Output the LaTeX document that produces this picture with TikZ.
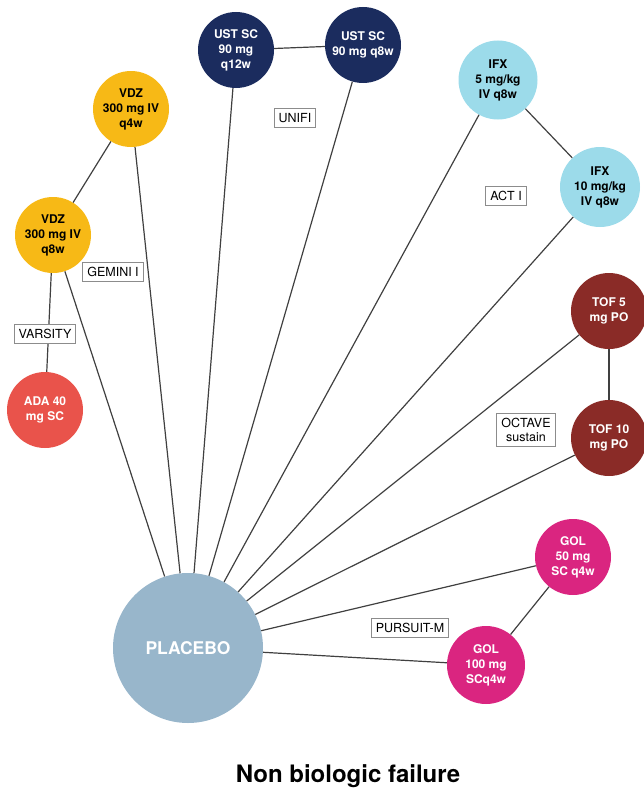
\documentclass[tikz,border=0pt]{standalone}
\usepackage{fontspec}
\setmainfont{TeX Gyre Heros}
\begin{document}
\begin{tikzpicture}[x=1pt,y=-1pt,
  drug/.style={circle,minimum size=76pt,inner sep=0pt,align=center,
    font=\bfseries\fontsize{12}{15}\selectfont},
  trial/.style={draw=black!45,line width=1pt,fill=white,inner xsep=4.5pt,inner ysep=4.5pt,
    align=center,font=\fontsize{12.5}{14}\selectfont},
  link/.style={draw=black!75,line width=1.2pt}]
\definecolor{vdzc}{HTML}{F7B916}
\definecolor{adac}{HTML}{E9534B}
\definecolor{ustc}{HTML}{1B2C5E}
\definecolor{ifxc}{HTML}{9CDBEA}
\definecolor{tofc}{HTML}{8A2B27}
\definecolor{golc}{HTML}{DA2580}
\definecolor{plac}{HTML}{98B6CB}
\useasboundingbox (0,0) rectangle (644,792);

% treatment nodes
\node[drug,fill=plac,text=white,minimum size=150pt,font=\bfseries\fontsize{17.5}{20}\selectfont] (pbo) at (188,648) {PLACEBO};
\node[drug,fill=vdzc] (vdz4) at (131,109) {VDZ\\300 mg IV\\q4w};
\node[drug,fill=vdzc] (vdz8) at (53,235) {VDZ\\300 mg IV\\q8w};
\node[drug,fill=adac,text=white] (ada) at (45,410) {ADA 40\\mg SC};
\node[drug,fill=ustc,text=white] (ust12) at (236,50) {UST SC\\90 mg\\q12w};
\node[drug,fill=ustc,text=white] (ust8) at (363,45) {UST SC\\90 mg q8w};
\node[drug,fill=ifxc,minimum size=79pt] (ifx5) at (498,80) {IFX\\5 mg/kg\\IV q8w};
\node[drug,fill=ifxc,minimum size=80pt] (ifx10) at (600,187) {IFX\\10 mg/kg\\IV q8w};
\node[drug,fill=tofc,text=white] (tof5) at (609,311) {TOF 5\\mg PO};
\node[drug,fill=tofc,text=white] (tof10) at (609,438) {TOF 10\\mg PO};
\node[drug,fill=golc,text=white] (gol50) at (573,557) {GOL\\50 mg\\SC q4w};
\node[drug,fill=golc,text=white,minimum size=78pt] (gol100) at (486,665) {GOL\\100 mg\\SCq4w};

% comparisons against placebo
\foreach \t in {vdz4,vdz8,ust12,ust8,ifx5,ifx10,tof5,tof10,gol50,gol100}
  \draw[link] (pbo) -- (\t);

% head-to-head and dose links
\draw[link] (vdz4) -- (vdz8);
\draw[link] (vdz8) -- (ada);
\draw[link] (ust12) -- (ust8);
\draw[link] (ifx5) -- (ifx10);
\draw[link] (tof5) -- (tof10);
\draw[link] (gol50) -- (gol100);

% trial labels
\node[trial] (varsity) at (45,334) {VARSITY};
\node[trial] (gemini) at (113,272) {GEMINI I};
\node[trial] (unifi) at (295,118) {UNIFI};
\node[trial] (act) at (506,196) {ACT I};
\node[trial] (octave) at (526,430) {OCTAVE\\sustain};
\node[trial] (pursuit) at (410,628) {PURSUIT-M};

% caption
\node[font=\bfseries\fontsize{24}{28}\selectfont] (title) at (348,776) {Non biologic failure};
\end{tikzpicture}
\end{document}
